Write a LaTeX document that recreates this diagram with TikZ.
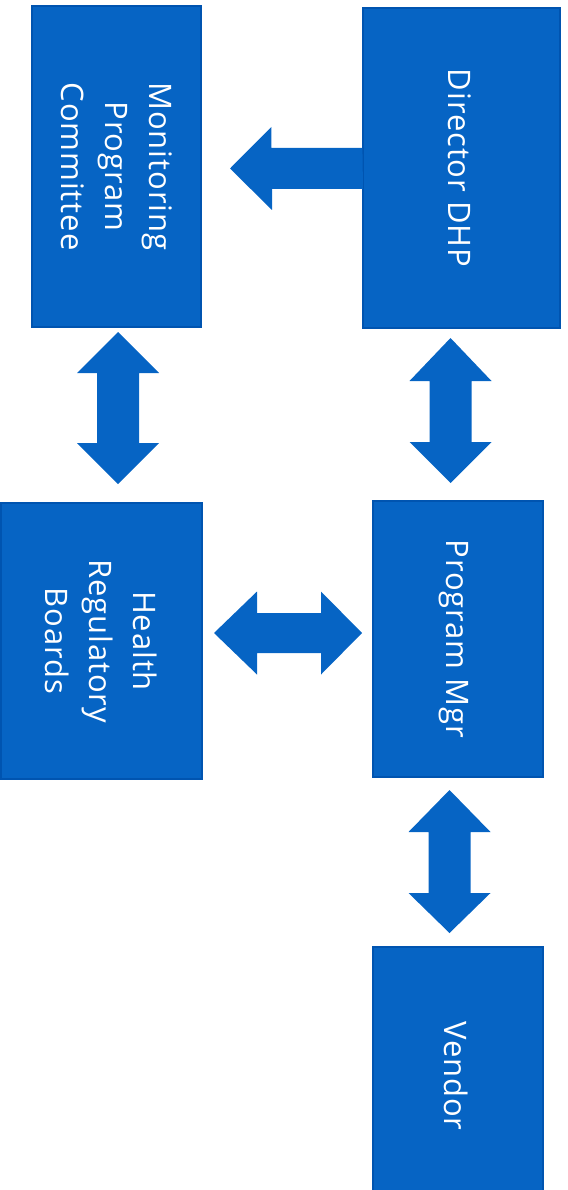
\documentclass[tikz,border=0pt]{standalone}
\usepackage{fontspec}
\setmainfont{Open Sans}[LetterSpace=3]
\usetikzlibrary{calc}
\definecolor{boxblue}{RGB}{6,100,196}
\definecolor{edgeblue}{RGB}{0,84,176}
\begin{document}
\begin{tikzpicture}[x=1pt,y=-1pt,
  box/.style={draw=edgeblue,line width=1.2pt,fill=boxblue,inner sep=0pt},
  lbl/.style={rotate=-90,text=white,align=center,font=\fontsize{31}{44}\selectfont},
  blockarrow/.style={fill=boxblue,draw=none}]
\useasboundingbox (0,0) rectangle (567,1190);
\begin{scope}
\clip (0,0) rectangle (567,1190);
% boxes
\node[box,minimum width=169pt,minimum height=321pt] (mpc) at (116.5,166.5) {};
\node[box,minimum width=197pt,minimum height=320pt] (dir) at (461.5,168) {};
\node[box,minimum width=201pt,minimum height=276pt] (hrb) at (101.5,641) {};
\node[box,minimum width=170pt,minimum height=276pt] (pm) at (458,639) {};
\node[box,minimum width=170pt,minimum height=258pt] (ven) at (458,1076) {};
\end{scope}
% labels
\node[lbl] (mpcT) at (mpc.center) {Monitoring\\Program\\Committee};
\node[lbl] (dirT) at ($(dir.center)+(-2,0)$) {Director DHP};
\node[lbl] (hrbT) at ($(hrb.center)+(0,0)$) {Health\\Regulatory\\Boards};
\node[lbl] (pmT) at ($(pm.center)+(-4,0)$) {Program Mgr};
\node[lbl] (venT) at ($(ven.center)+(-2,0)$) {Vendor};
% arrow centres
\coordinate (a1) at (dir.west |- 0,168.5);
\coordinate (a2) at (118,408);
\coordinate (a3) at (450.5,410.5);
\coordinate (a4) at (288,633);
\coordinate (a5) at (449.5,861.5);
% Director -> Monitoring (single arrow)
\fill[blockarrow] (a1) ++(0,-20.5) -- ++(-91,0) -- ++(0,-21) -- (230,168.5) -- ++(42,41.5) -- ++(0,-21) -- ++(91,0) -- cycle;
% Monitoring <-> Health (vertical double)
\fill[blockarrow] (a2) ++(0,-76) -- ++(41,41) -- ++(-20,0) -- ++(0,70) -- ++(20,0) -- ++(-41,41) -- ++(-41,-41) -- ++(20,0) -- ++(0,-70) -- ++(-20,0) -- cycle;
% Director <-> Program Mgr
\fill[blockarrow] (a3) ++(0,-72.5) -- ++(41,43) -- ++(-20,0) -- ++(0,61) -- ++(20,0) -- ++(-41,41) -- ++(-41,-41) -- ++(20,0) -- ++(0,-61) -- ++(-20,0) -- cycle;
% Health <-> Program Mgr (horizontal double)
\fill[blockarrow] (a4) ++(-74,0) -- ++(43,-41.5) -- ++(0,21.5) -- ++(64,0) -- ++(0,-21.5) -- ++(41,41.5) -- ++(-41,41.5) -- ++(0,-21.5) -- ++(-64,0) -- ++(0,21.5) -- cycle;
% Program Mgr <-> Vendor
\fill[blockarrow] (a5) ++(0,-71.5) -- ++(41,42) -- ++(-20,0) -- ++(0,61) -- ++(20,0) -- ++(-41,40) -- ++(-41,-40) -- ++(20,0) -- ++(0,-61) -- ++(-20,0) -- cycle;
\end{tikzpicture}
\end{document}
